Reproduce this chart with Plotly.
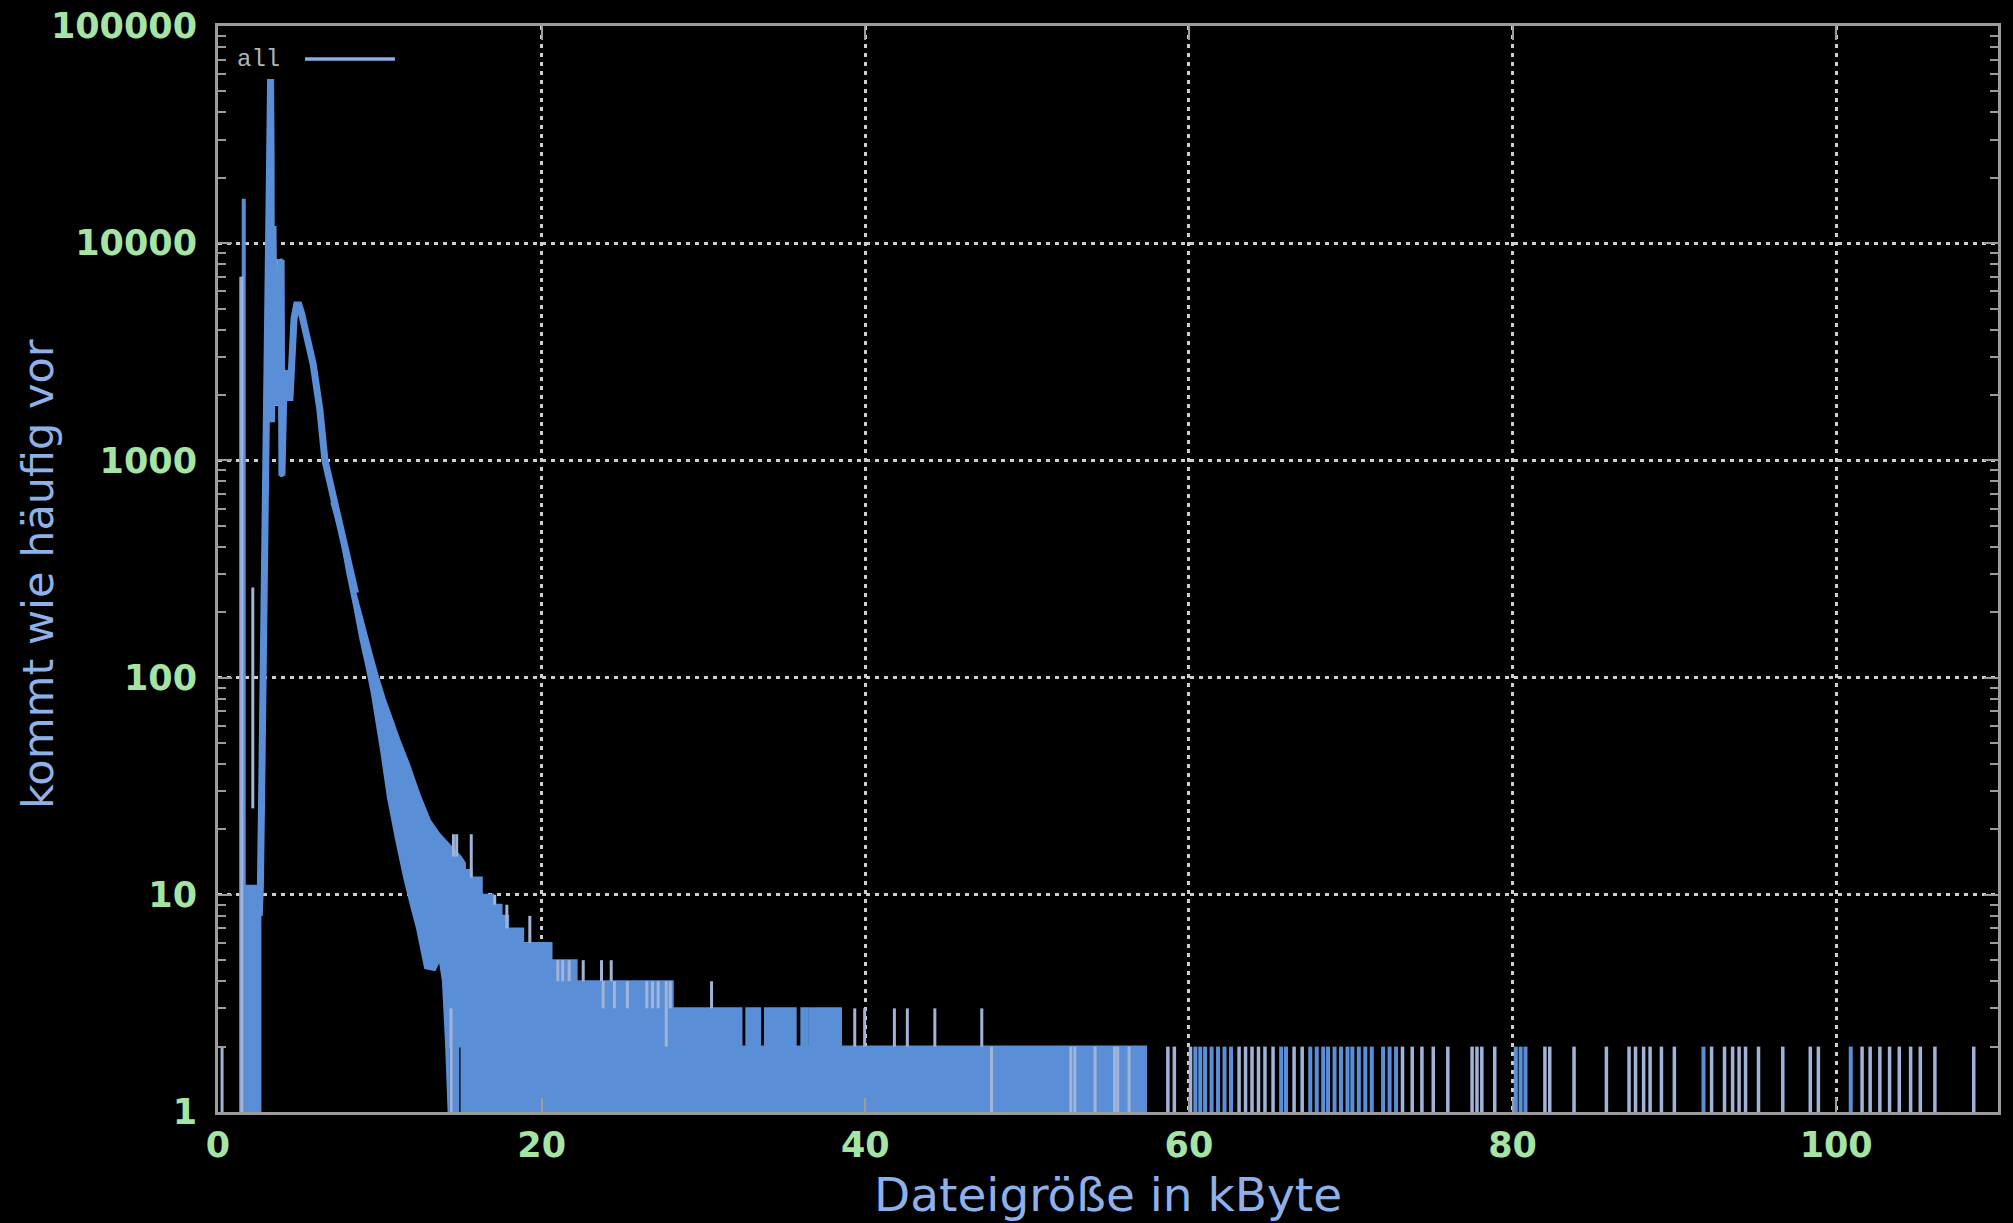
import plotly.graph_objects as go

# ---- file-size histogram (x in kByte, y = number of files) ----

# main curve: rise, sharp peak and the smooth bump
curve_kb = [2.55, 2.62, 2.70, 2.80, 2.90, 3.00, 3.08, 3.15, 3.20, 3.25, 3.28, 3.31,
            3.40, 3.50, 3.90, 3.95, 4.05, 4.10, 4.20, 4.30, 4.45, 4.55, 4.70, 4.86,
            5.00, 5.15, 5.30, 5.48, 5.70, 5.89, 6.10, 6.30, 6.61, 6.90, 7.12, 7.40,
            7.74, 8.15, 8.50]
curve_n = [8, 11, 30, 100, 330, 1000, 2800, 8000, 20000, 57000, 25000, 1500,
           12000, 1800, 8400, 850, 1900, 2600, 2200, 1950, 1950, 3300, 4500, 5200,
           5200, 4800, 4300, 3900, 3200, 2750, 2150, 1700, 1000, 800, 680, 550,
           430, 310, 245]

# dense oscillating stretch right after the peak
peak_hi_kb = [3.30, 3.34, 3.38, 3.45, 3.70, 3.92, 3.98, 4.10]
peak_hi_n = [22000, 20000, 12000, 8600, 8300, 8400, 3000, 2600]
peak_lo_kb = [3.30, 3.45, 3.80, 3.88, 3.98, 4.05, 4.10]
peak_lo_n = [1500, 1800, 1800, 850, 850, 1900, 2600]

# small-file block near the origin
small_hi_kb = [1.42, 2.62]
small_hi_n = [11, 11]
small_lo_kb = [1.42, 2.62]
small_lo_n = [1, 1]

# upper edge of the tail band
tail_hi_kb = [7.00, 7.40, 7.74, 8.15, 8.50, 8.80, 9.20, 9.50, 9.90, 10.30, 10.74, 11.20,
              11.80, 12.45, 13.10, 13.70, 14.30, 15.00, 15.26, 15.26, 15.67, 15.67,
              16.30, 16.30, 17.00, 17.00, 17.52, 17.52, 17.93, 17.93, 18.86, 18.86,
              20.61, 20.61, 22.16, 22.16, 28.10, 28.10, 32.35, 32.35, 32.65, 32.65,
              32.90, 32.90, 33.02, 33.02, 33.50, 33.50, 33.80, 33.80, 35.00, 35.00,
              35.12, 35.12, 35.70, 35.70, 36.05, 36.05, 36.45, 36.45, 36.58, 36.58,
              37.35, 37.35, 37.47, 37.47, 38.50, 38.50, 53.15, 53.15, 53.25, 53.25,
              57.35, 57.35]
tail_hi_n = [700, 550, 430, 310, 245, 200, 155, 128, 100, 80, 65, 52,
             40, 29, 22, 19, 17, 15, 14, 13, 13, 12,
             12, 10, 10, 9, 9, 8, 8, 7, 7, 6,
             6, 5, 5, 4, 4, 3, 3, 2, 2, 3,
             3, 2, 2, 3, 3, 2, 2, 3, 3, 2,
             2, 3, 3, 2, 2, 3, 3, 2, 2, 3,
             3, 2, 2, 3, 3, 2, 2, 1, 1, 2,
             2, 1]

# lower edge of the tail band
tail_lo_kb = [7.00, 7.50, 8.00, 8.40, 8.80, 9.20, 9.50, 10.10, 10.50, 11.00, 11.50,
              12.00, 12.30, 12.80, 13.40, 13.70, 13.90, 14.10, 14.25, 14.25, 14.45,
              14.45, 14.85, 14.85, 15.05, 15.05, 57.35]
tail_lo_n = [640, 480, 300, 215, 150, 110, 85, 45, 28, 18, 12,
             8.5, 7, 4.6, 4.5, 5, 4, 2, 1, 2, 2,
             1, 1, 2, 2, 1, 1]

# single spikes in the dense region (x, from, to)
spike_kb = [1.43, 1.59]
spike_lo = [1, 1]
spike_hi = [7000, 16000]

pale_kb = [0.25, 1.47, 2.15, 14.55, 14.75, 15.65, 17.10, 17.85, 19.27, 22.57, 23.70, 24.30,
           27.95, 30.50, 39.35, 39.96, 41.80, 42.60, 44.30, 47.20,
           14.40, 21.00, 21.30, 21.70, 23.80, 24.50, 25.30, 26.50, 26.85, 27.20, 27.70,
           47.80, 52.70, 52.95, 54.20, 55.40, 55.60, 56.30]
pale_lo = [1, 1, 25, 15, 15, 12, 9, 7, 6, 4, 4, 4,
           3, 3, 2, 2, 2, 2, 2, 2,
           1, 4, 4, 4, 3, 3, 3, 3, 3, 3, 2,
           1, 1, 1, 1, 1, 1, 1]
pale_hi = [2, 7000, 260, 19, 19, 19, 10, 9, 8, 5, 5, 5,
           4, 4, 3, 3, 3, 3, 3, 3,
           3, 5, 5, 5, 4, 4, 4, 4, 4, 4, 4,
           2, 2, 2, 2, 2, 2, 2]

# sparse large files, each seen twice
rare_blue_kb = [60.4, 60.7, 61.0, 61.4, 61.8, 62.2, 62.6, 65.7, 66.0, 67.5, 67.9, 68.3,
                68.6, 69.0, 69.4, 69.8, 70.1, 70.5, 70.9, 71.3, 72.0, 72.4, 72.8, 80.2,
                80.5, 80.8, 91.8, 100.9]
rare_pale_kb = [58.7, 59.1, 60.1, 63.1, 63.5, 63.9, 64.3, 64.7, 65.2, 66.5, 67.0, 73.2,
                73.8, 74.4, 75.1, 76.0, 77.5, 77.8, 78.1, 78.9, 82.0, 82.3, 83.8, 85.8,
                87.2, 87.6, 88.1, 88.5, 89.2, 90.0, 92.3, 93.1, 93.6, 94.0, 94.4, 95.2,
                96.7, 98.4, 98.9, 101.6, 102.1, 102.7, 103.3, 103.9, 104.6, 105.2, 106.1,
                108.5]
rare_count = 2

# axis ticks
x_ticks = [0, 20, 40, 60, 80, 100]
x_labels = ["0", "20", "40", "60", "80", "100"]
y_ticks = [1, 10, 100, 1000, 10000, 100000]
y_labels = ["1", "10", "100", "1000", "10000", "100000"]

BLUE = "#5a8fd7"
PALE = "#a2b3d8"
GRID = "#cfcfcf"
FRAME = "#9c9c9c"
GREEN = "#a6e4a4"
TITLE = "#8fb1ea"
WIDE = "DejaVu Sans, Verdana, sans-serif"


def segments(xs, lo, hi):
    sx, sy = [], []
    for x, a, b in zip(xs, lo, hi):
        sx += [x, x, None]
        sy += [a, b, None]
    return sx, sy


def polygon(hx, hy, lx, ly):
    return list(hx) + list(reversed(lx)), list(hy) + list(reversed(ly))


fig = go.Figure()

for hx, hy, lx, ly, col in [
    (small_hi_kb, small_hi_n, small_lo_kb, small_lo_n, BLUE),
    (tail_hi_kb, tail_hi_n, tail_lo_kb, tail_lo_n, BLUE),
    (peak_hi_kb, peak_hi_n, peak_lo_kb, peak_lo_n, "#8ea6d6"),
]:
    px, py = polygon(hx, hy, lx, ly)
    fig.add_trace(go.Scatter(x=px, y=py, mode="lines", fill="toself", fillcolor=col,
                             line=dict(color=col, width=2), hoverinfo="skip",
                             showlegend=False))

fig.add_trace(go.Scatter(x=curve_kb, y=curve_n, mode="lines",
                         line=dict(color=BLUE, width=7), hoverinfo="skip",
                         showlegend=False))

sx, sy = segments(spike_kb, spike_lo, spike_hi)
fig.add_trace(go.Scatter(x=sx, y=sy, mode="lines", line=dict(color=BLUE, width=4),
                         hoverinfo="skip", showlegend=False))

sx, sy = segments(pale_kb, pale_lo, pale_hi)
fig.add_trace(go.Scatter(x=sx, y=sy, mode="lines", line=dict(color=PALE, width=3),
                         hoverinfo="skip", showlegend=False))

sx, sy = segments(rare_blue_kb, [1] * len(rare_blue_kb), [rare_count] * len(rare_blue_kb))
fig.add_trace(go.Scatter(x=sx, y=sy, mode="lines", line=dict(color=BLUE, width=4),
                         hoverinfo="skip", showlegend=False))

sx, sy = segments(rare_pale_kb, [1] * len(rare_pale_kb), [rare_count] * len(rare_pale_kb))
fig.add_trace(go.Scatter(x=sx, y=sy, mode="lines", line=dict(color=PALE, width=3.5),
                         hoverinfo="skip", showlegend=False))

minor_y = [m * 10 ** e for e in range(0, 5) for m in range(2, 10)]

fig.update_layout(
    width=2013, height=1223, autosize=False,
    paper_bgcolor="black", plot_bgcolor="black",
    margin=dict(l=218, r=15, t=26, b=111),
    font=dict(family=WIDE),
    xaxis=dict(
        range=[0, 110], tickmode="array", tickvals=x_ticks, ticktext=x_labels,
        ticks="inside", ticklen=14, tickwidth=2, tickcolor=FRAME,
        showline=True, linecolor=FRAME, linewidth=3, mirror="ticks",
        showgrid=True, gridcolor=GRID, gridwidth=2.5, griddash="4px,5px",
        zeroline=False, ticklabelstandoff=0, automargin=False,
        tickfont=dict(size=35, color=GREEN, family=WIDE, weight="bold"),
    ),
    yaxis=dict(
        type="log", range=[0, 5], tickmode="array", tickvals=y_ticks, ticktext=y_labels,
        ticks="inside", ticklen=14, tickwidth=2, tickcolor=FRAME,
        showline=True, linecolor=FRAME, linewidth=3, mirror="ticks",
        showgrid=True, gridcolor=GRID, gridwidth=2.5, griddash="4px,5px",
        zeroline=False, ticklabelstandoff=11, automargin=False,
        tickfont=dict(size=35, color=GREEN, family=WIDE, weight="bold"),
        minor=dict(tickmode="array", tickvals=minor_y, ticks="inside", ticklen=8,
                   tickwidth=2, tickcolor=FRAME, showgrid=False),
    ),
    annotations=[
        dict(text="Dateigröße in kByte", xref="paper", yref="paper", x=0.5, y=-0.0764,
             xanchor="center", yanchor="middle", showarrow=False,
             font=dict(size=47, color=TITLE, family=WIDE)),
        dict(text="kommt wie häufig vor", xref="paper", yref="paper", x=-0.1011, y=0.4954,
             xanchor="center", yanchor="middle", textangle=-90, showarrow=False,
             font=dict(size=43, color=TITLE, family=WIDE)),
        dict(text="all", xref="paper", yref="paper", x=0.0225, y=0.9696,
             xanchor="center", yanchor="middle", showarrow=False,
             font=dict(size=24, color="#b4b4b4", family="Liberation Mono, monospace")),
    ],
    shapes=[
        dict(type="line", xref="paper", yref="paper", x0=0.0489, x1=0.0994,
             y0=0.9696, y1=0.9696, line=dict(color="#8daee2", width=3.5)),
    ],
)

fig.write_html("out.html")
